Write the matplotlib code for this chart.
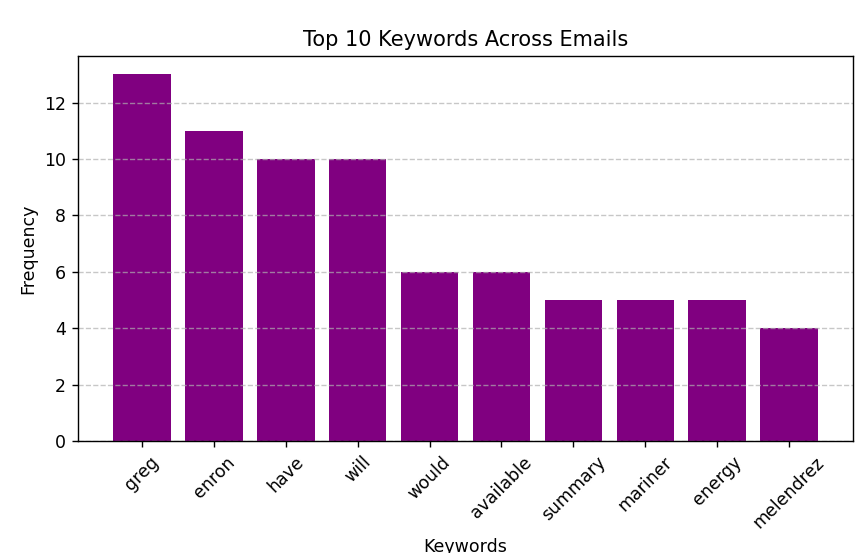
import matplotlib
matplotlib.use("Agg")
import matplotlib.pyplot as plt

keywords = ["greg", "enron", "have", "will", "would", "available",
            "summary", "mariner", "energy", "melendrez"]
counts = [13, 11, 10, 10, 6, 6, 5, 5, 5, 4]

fig, ax = plt.subplots(figsize=(862 / 125, 553 / 125), dpi=125)
ax.bar(keywords, counts, color="purple")
ax.set_title("Top 10 Keywords Across Emails")
ax.set_xlabel("Keywords")
ax.set_ylabel("Frequency")
plt.xticks(rotation=45)
ax.grid(axis="y", linestyle="--", alpha=0.7)
fig.subplots_adjust(left=0.0905, right=0.9896, top=0.8987, bottom=0.2025)
fig.savefig("out.png", dpi=125)
